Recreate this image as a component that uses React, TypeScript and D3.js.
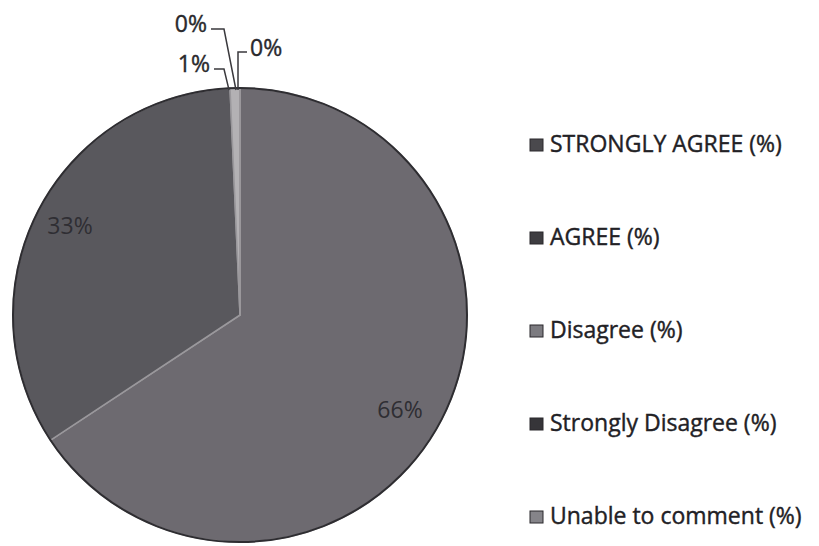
import { useEffect, useRef } from 'react'
import * as d3 from 'd3'

const categories = ['STRONGLY AGREE (%)', 'AGREE (%)', 'Disagree (%)', 'Strongly Disagree (%)', 'Unable to comment (%)']
const values = [65.7, 33.6, 0.7, 0, 0]
const labels = ['66%', '33%', '1%', '0%', '0%']
const sliceColors = ['#6d6a70', '#59585d', '#b3b1b4', '#3c3b3f', '#8d8b90']
const markerColors = ['#4a494d', '#3e3d41', '#7c7b80', '#363539', '#858489']

const W = 819
const H = 546
const CX = 240
const CY = 315
const R = 227

// Label layout: inside labels for big slices, leader lines for the thin ones at the top.
// [textX, textY, elbowX, elbowY, anchor]
const labelLayout: [number, number, number, number, string][] = [
  [400, 418, 0, 0, 'middle'],
  [70, 234, 0, 0, 'middle'],
  [210, 72, 224, 69, 'end'],
  [207, 32, 224, 29, 'end'],
  [250, 56, 238, 52, 'start'],
]

export default function App() {
  const svgRef = useRef<SVGSVGElement>(null)

  useEffect(() => {
    if (!svgRef.current) return
    const svg = d3.select(svgRef.current)
    svg.selectAll('*').remove()

    const g = svg.append('g').attr('transform', `translate(${CX},${CY})`)

    const pie = d3.pie<number>().sort(null).value((d) => d)
    const arcs = pie(values)
    const arcGen = d3.arc<d3.PieArcDatum<number>>().innerRadius(0).outerRadius(R)

    // slices
    g.selectAll('path.slice')
      .data(arcs)
      .join('path')
      .attr('class', 'slice')
      .attr('d', arcGen)
      .attr('fill', (_, i) => sliceColors[i])
      .attr('stroke', '#9a989c')
      .attr('stroke-width', 1.5)
      .attr('stroke-linejoin', 'round')

    // dark outer rim
    g.append('circle')
      .attr('r', R)
      .attr('fill', 'none')
      .attr('stroke', '#2e2d31')
      .attr('stroke-width', 2)

    const font = "'Open Sans', sans-serif"

    arcs.forEach((a, i) => {
      const [tx, ty, ex, ey, anchor] = labelLayout[i]
      if (ex === 0 && ey === 0) {
        svg.append('text')
          .attr('x', tx)
          .attr('y', ty)
          .attr('text-anchor', anchor)
          .attr('font-family', font)
          .attr('font-size', 23)
          .attr('fill', '#2f2e33')
          .text(labels[i])
        return
      }
      const mid = (a.startAngle + a.endAngle) / 2
      const px = CX + Math.sin(mid) * (R - 2) + (i === 2 ? -6 : i === 3 ? -4 : -2)
      const py = CY - Math.cos(mid) * (R - 2)
      svg.append('polyline')
        .attr('points', `${tx + (anchor === 'end' ? 4 : -3)},${ey} ${ex},${ey} ${px},${py}`)
        .attr('fill', 'none')
        .attr('stroke', '#3a393d')
        .attr('stroke-width', 1.5)
      svg.append('text')
        .attr('x', tx)
        .attr('y', ty)
        .attr('text-anchor', anchor)
        .attr('font-family', font)
        .attr('font-size', 23)
        .attr('fill', '#2a292d')
        .attr('stroke', '#2a292d')
        .attr('stroke-width', 0.4)
        .text(labels[i])
    })

    // legend
    const legendY = d3.scalePoint<string>().domain(categories).range([144, 516])
    const lg = svg.append('g')
    categories.forEach((c, i) => {
      const y = legendY(c) as number
      lg.append('rect')
        .attr('x', 530)
        .attr('y', y - 5)
        .attr('width', 13)
        .attr('height', 12)
        .attr('fill', markerColors[i])
        .attr('stroke', '#2a292d')
        .attr('stroke-width', 1)
      lg.append('text')
        .attr('x', 550)
        .attr('y', y + 8)
        .attr('font-family', font)
        .attr('font-size', 23)
        .attr('fill', '#222125')
        .attr('stroke', '#222125')
        .attr('stroke-width', 0.4)
        .text(c)
    })
  }, [])

  return (
    <svg
      ref={svgRef}
      width={W}
      height={H}
      style={{ position: 'absolute', left: 0, top: 0, background: '#fff' }}
    />
  )
}
